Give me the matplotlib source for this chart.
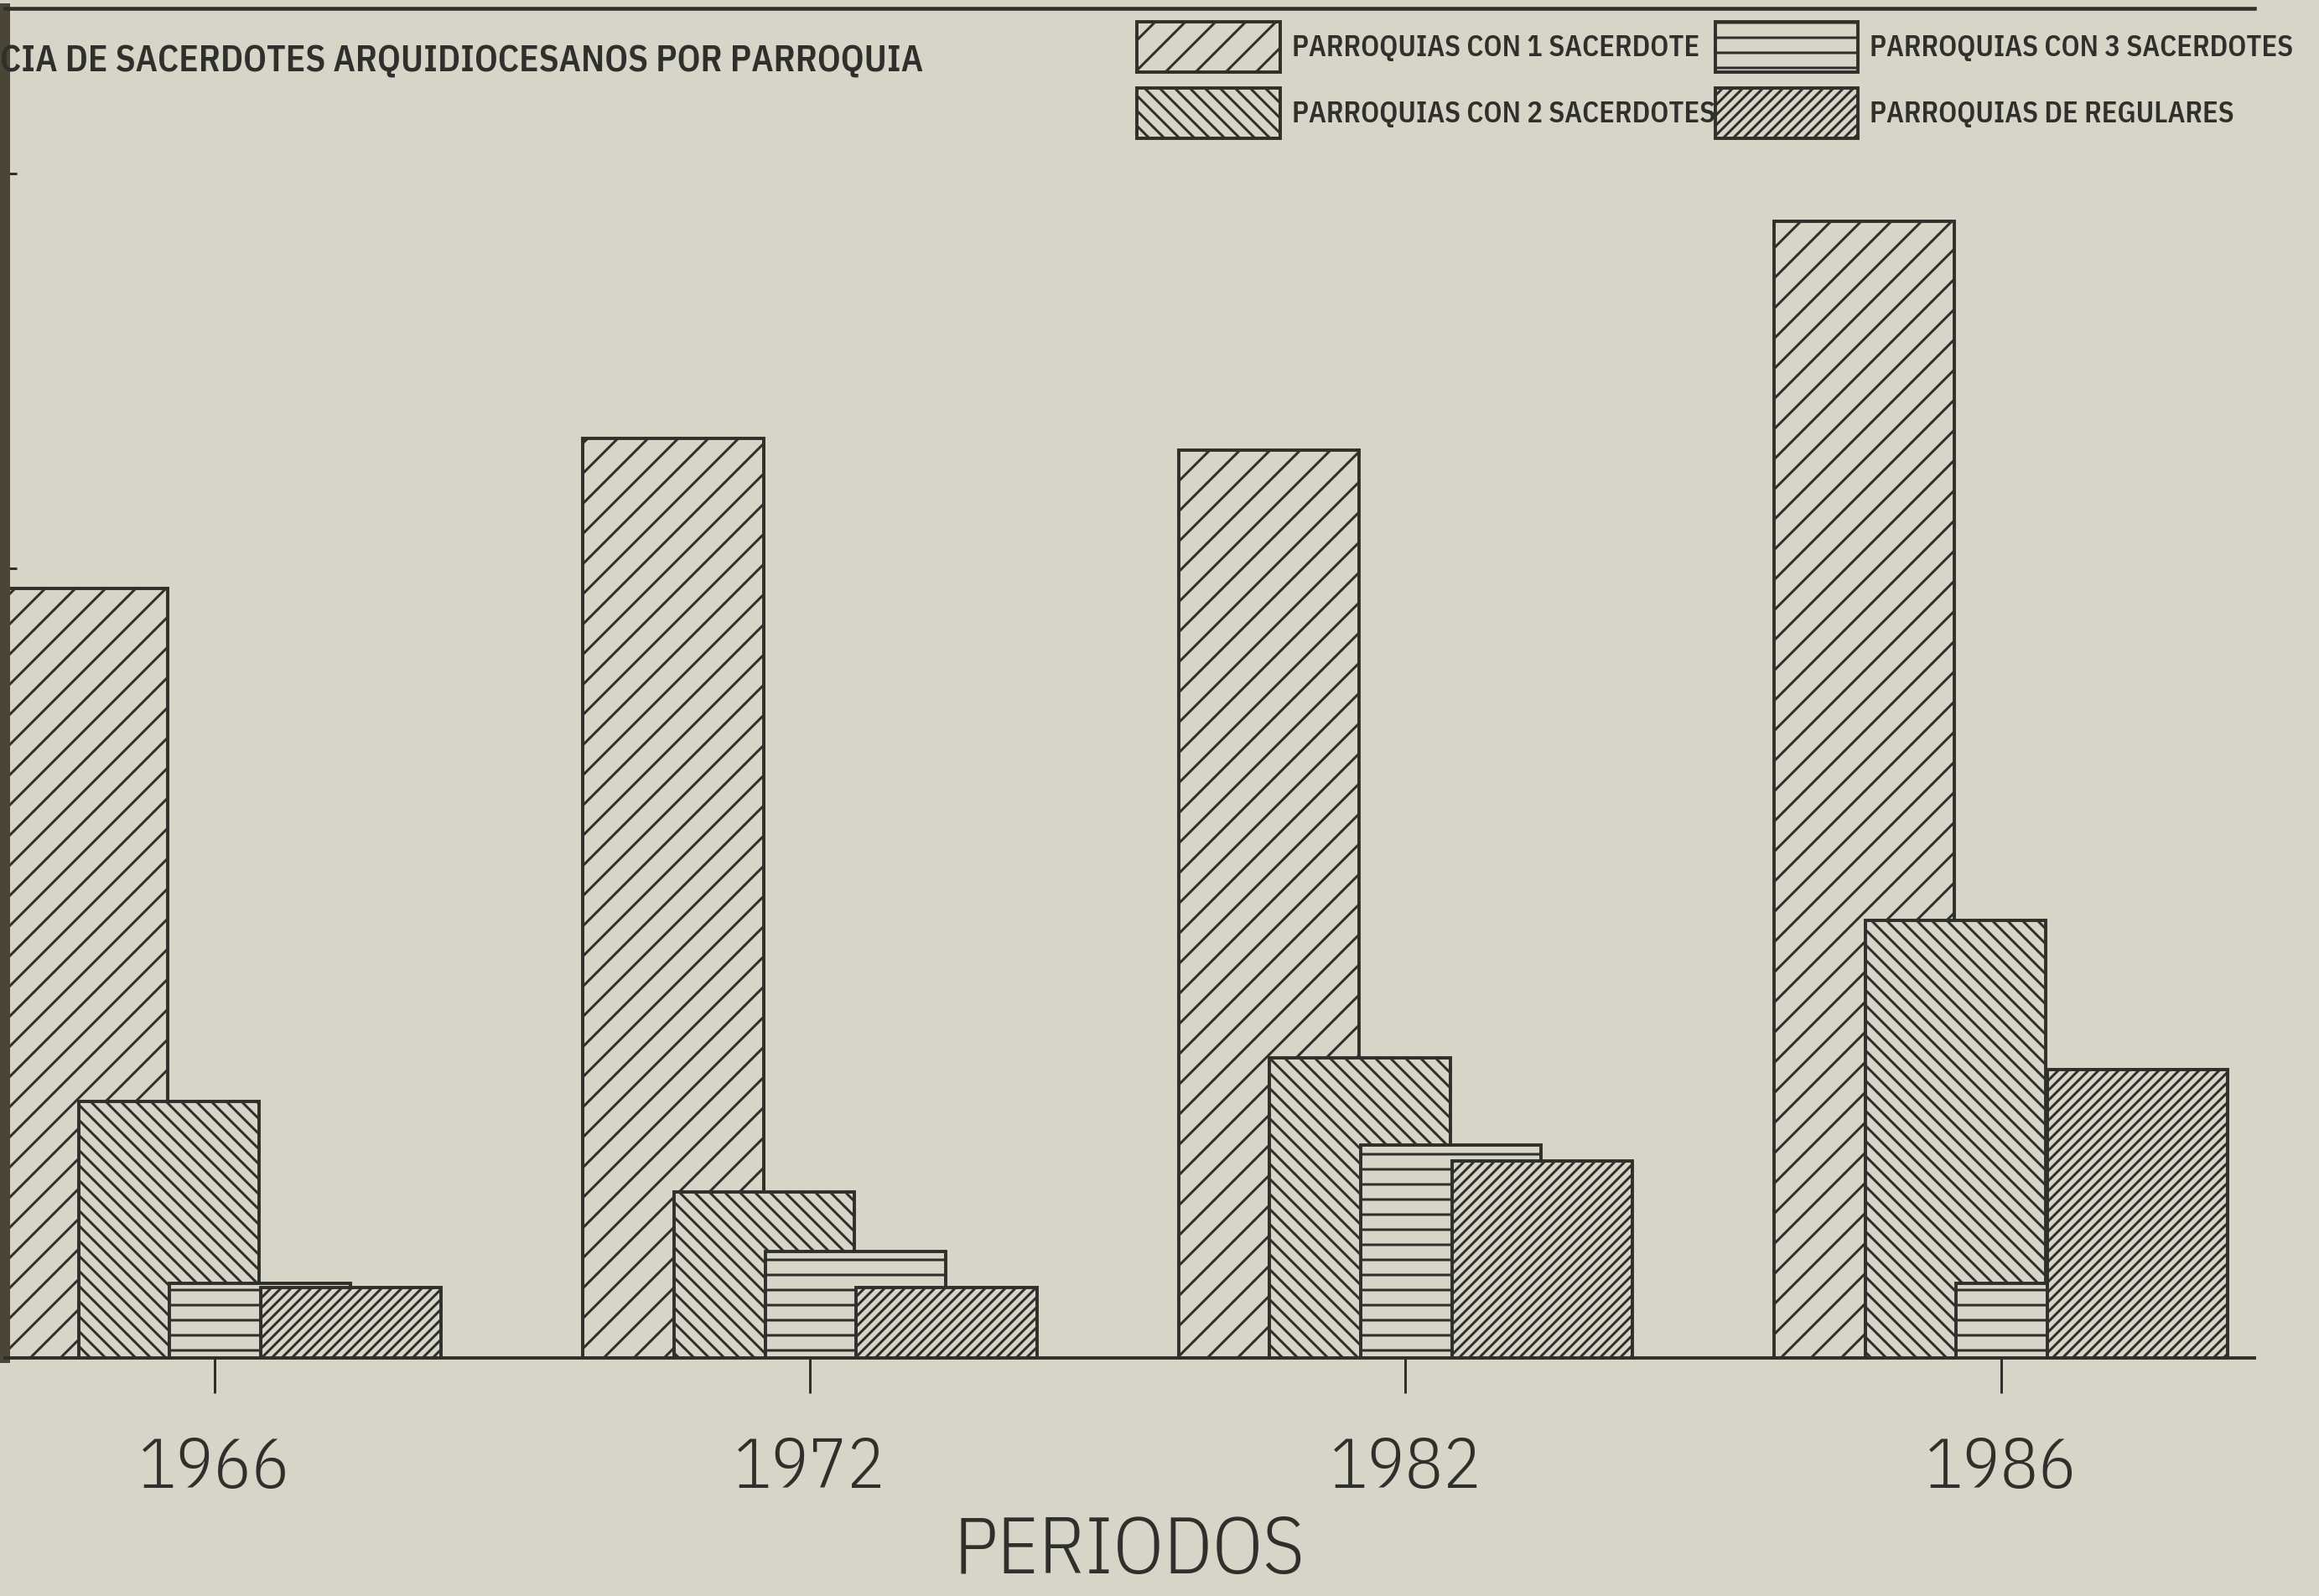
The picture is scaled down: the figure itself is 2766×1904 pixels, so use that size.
import numpy as np
import matplotlib
matplotlib.use("Agg")
import matplotlib.pyplot as plt

# --- datos (unidad = 1 marca / 10) ---
periodos = ["1966", "1972", "1982", "1986"]
con_1_sacerdote = [19.5, 23.3, 23.0, 28.8]
con_2_sacerdotes = [6.5, 4.2, 7.6, 11.1]
con_3_sacerdotes = [1.9, 2.7, 5.4, 1.9]
de_regulares = [1.8, 1.8, 5.0, 7.3]

etiquetas = ["PARROQUIAS CON 1 SACERDOTE", "PARROQUIAS CON 2 SACERDOTES",
             "PARROQUIAS CON 3 SACERDOTES", "PARROQUIAS DE REGULARES"]
tramas = ["//", "\\\\\\\\", "--", "//////"]

PAPEL = "#d7d4c8"
TINTA = "#2f2f2b"
DPI = 216
FUENTE = ['IBM Plex Sans Condensed', 'DejaVu Sans']

plt.rcParams['font.family'] = FUENTE
plt.rcParams['hatch.linewidth'] = 1.0
plt.rcParams['hatch.color'] = TINTA

fig = plt.figure(figsize=(2766 / DPI, 1904 / DPI), dpi=DPI, facecolor=PAPEL)
ax = fig.add_axes([0.002, 0.149, 0.970, 0.846])
ax.set_facecolor(PAPEL)

x = np.arange(len(periodos))
ancho = 0.303
paso = 0.153
series = [con_1_sacerdote, con_2_sacerdotes, con_3_sacerdotes, de_regulares]
for i, (vals, lab, h) in enumerate(zip(series, etiquetas, tramas)):
    ax.bar(x + (i - 1.5) * paso, vals, width=ancho, color=PAPEL,
           edgecolor=TINTA, hatch=h, linewidth=1.3, label=lab, zorder=2 + i)

ax.set_xlim(-0.352, 3.425)
ax.set_ylim(0, 34.2)

ax.spines['right'].set_visible(False)
ax.spines['top'].set_linewidth(1.5)
ax.spines['top'].set_color(TINTA)
ax.spines['bottom'].set_linewidth(1.3)
ax.spines['bottom'].set_color(TINTA)
ax.spines['left'].set_linewidth(4)
ax.spines['left'].set_color("#4a4535")

ax.set_xticks(x, periodos, fontweight=300)
ax.tick_params(axis='x', direction='out', length=14, width=1.0, pad=17,
               labelsize=28, colors=TINTA)
ax.set_yticks([10, 20, 30])
ax.tick_params(axis='y', direction='inout', length=9, width=1.0,
               labelleft=False, colors=TINTA)
ax.set_xlabel("PERIODOS", fontsize=32, fontweight=300, labelpad=5, color=TINTA)

fig.text(0.0, 0.962, "CIA DE SACERDOTES ARQUIDIOCESANOS POR PARROQUIA",
         ha='left', va='center', fontsize=14.5, fontweight=600, color=TINTA)

fig.legend(loc='upper left', bbox_to_anchor=(1356 / 2766, 1 - 26 / 1904),
           ncol=2, frameon=False, prop=dict(family=FUENTE, size=11.5, weight=600),
           handlelength=4.95, handleheight=2.3, handletextpad=0.4,
           columnspacing=0.0, labelspacing=0.55, borderpad=0, borderaxespad=0,
           labelcolor=TINTA)

fig.savefig("out.png", dpi=DPI, facecolor=PAPEL)
